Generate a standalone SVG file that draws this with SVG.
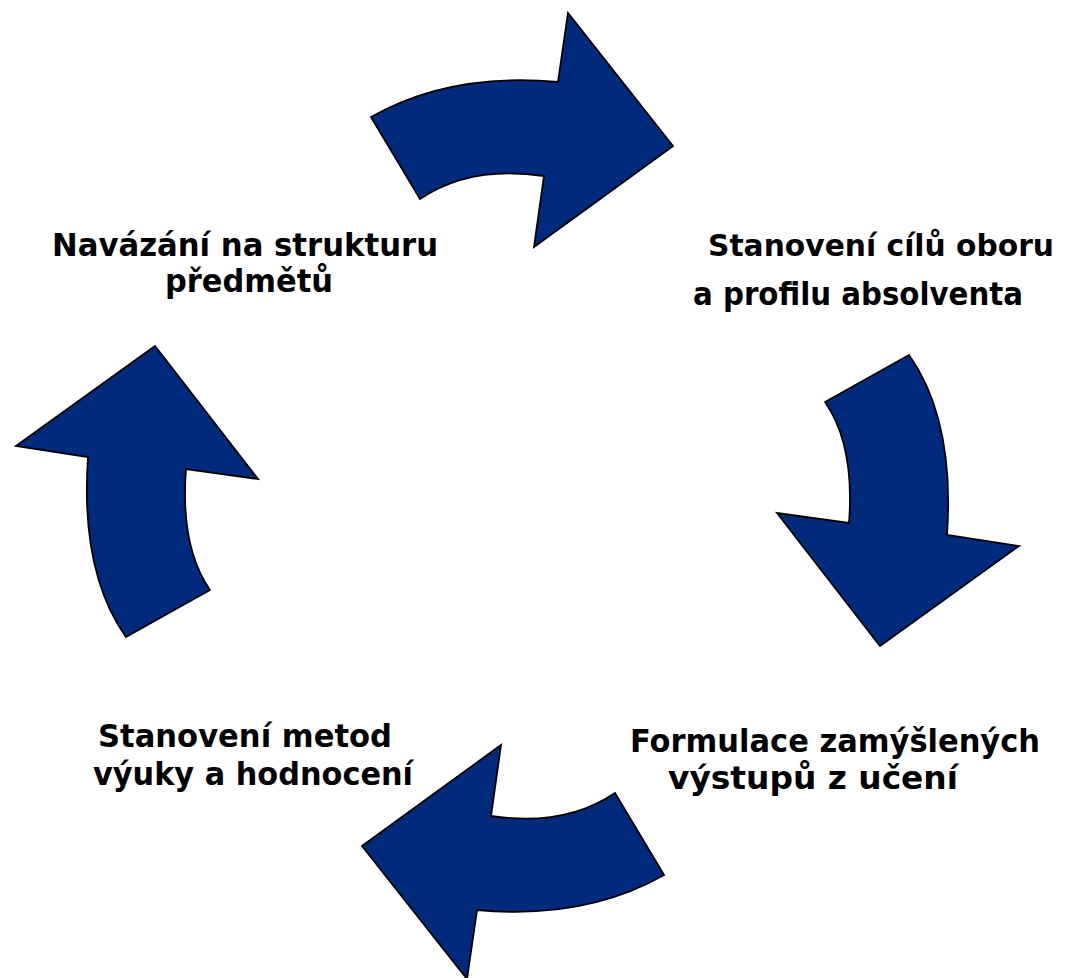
<svg xmlns="http://www.w3.org/2000/svg" width="1068" height="978" viewBox="0 0 1068 978">
<style>
.arrow{fill:#002B7C;stroke:#000;stroke-width:1.8;stroke-linejoin:miter}
.lbl{font-family:"DejaVu Sans","Liberation Sans",sans-serif;font-weight:bold;font-size:32px;fill:#000}
</style>
<rect width="1068" height="978" fill="#fff"/>
<g id="connectors">
<path id="arrow-top" class="arrow" d="M371,117 Q450,72 558,82 L568,13 L673,146 L534,247 L544,176 Q470,165 420,199 Z"/>
<path id="arrow-right" class="arrow" d="M909,355 L825,402 Q855,445 849,523 L777,513 L880,646 L1019,546 L947,535 Q955,420 909,355 Z"/>
<path id="arrow-bottom" class="arrow" transform="rotate(180 517.5 496)" d="M371,117 Q450,72 558,82 L568,13 L673,146 L534,247 L544,176 Q470,165 420,199 Z"/>
<path id="arrow-left" class="arrow" transform="rotate(180 517.5 496)" d="M909,355 L825,402 Q855,445 849,523 L777,513 L880,646 L1019,546 L947,535 Q955,420 909,355 Z"/>
</g>
<g id="node-structure">
<text class="lbl" x="52" y="256" textLength="386" lengthAdjust="spacingAndGlyphs">Navázání na strukturu</text>
<text class="lbl" x="165" y="292" textLength="168" lengthAdjust="spacingAndGlyphs">předmětů</text>
</g>
<g id="node-goals">
<text class="lbl" x="708" y="256" textLength="346" lengthAdjust="spacingAndGlyphs" style="font-size:30.5px">Stanovení cílů oboru</text>
<text class="lbl" x="693" y="305" textLength="330" lengthAdjust="spacingAndGlyphs">a profilu absolventa</text>
</g>
<g id="node-outcomes">
<text class="lbl" x="630" y="752" textLength="410" lengthAdjust="spacingAndGlyphs">Formulace zamýšlených</text>
<text class="lbl" x="668" y="789" textLength="290" lengthAdjust="spacingAndGlyphs">výstupů z učení</text>
</g>
<g id="node-methods">
<text class="lbl" x="98" y="747" textLength="294" lengthAdjust="spacingAndGlyphs">Stanovení metod</text>
<text class="lbl" x="93" y="785" textLength="320" lengthAdjust="spacingAndGlyphs">výuky a hodnocení</text>
</g>
</svg>
